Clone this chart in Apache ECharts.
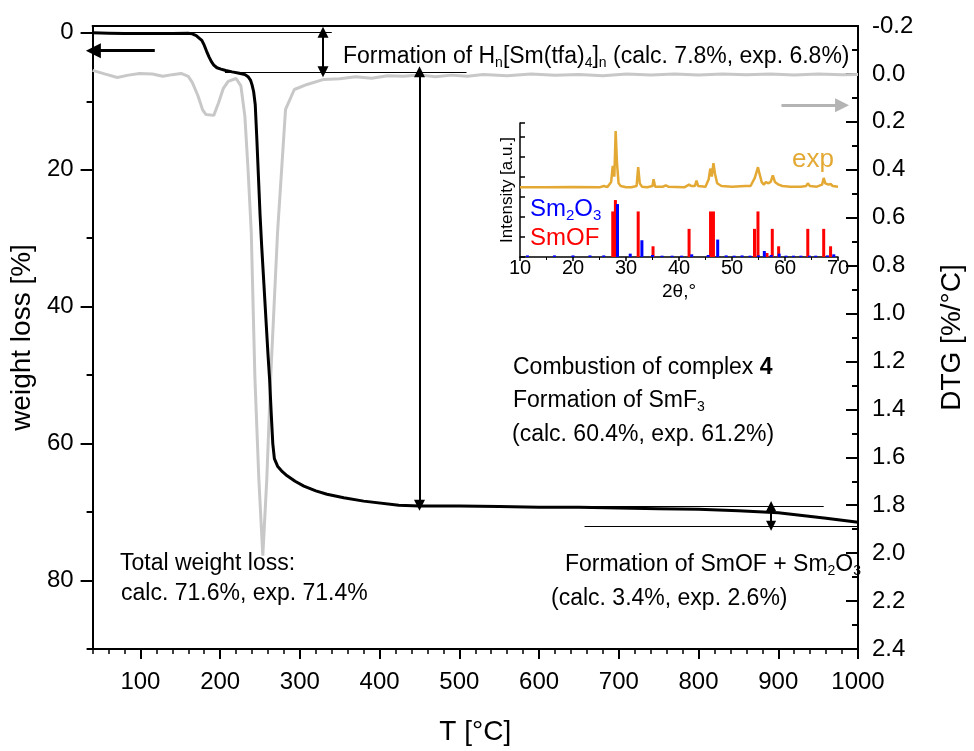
<!DOCTYPE html>
<html><head><meta charset="utf-8">
<script src="https://cdn.jsdelivr.net/npm/echarts@6/dist/echarts.min.js"></script>
<style>html,body{margin:0;padding:0;background:#fff}#c{width:974px;height:751px}</style>
</head><body><div id="c"></div>
<script>
// ---- TGA (weight loss, %) ----
const tgaT = [40,60,80,100,120,140,160,165,170,174,177,180,183,186,189,192,196,201,207,215,224,231,235,238,240,242,244,246,248,250,252,254,256,258,260,262,264,266,268,272,278,284,294,305,320,334,355,380,424,450,500,550,600,650,700,750,800,850,900,930,960,1000];
const tgaW = [0.0,0.05,0.1,0.1,0.1,0.1,0.05,0.15,0.4,0.8,1.1,1.8,2.7,3.5,4.2,4.7,5.1,5.3,5.5,5.7,5.9,6.1,6.4,6.9,7.6,8.6,10.5,15.5,21,26.5,31,35,39,43,47,50.6,55.5,60,62.2,63.3,64.1,64.7,65.5,66.2,66.9,67.4,67.9,68.4,69.0,69.1,69.1,69.2,69.3,69.3,69.4,69.5,69.6,69.8,70.1,70.5,70.9,71.5];
// ---- DTG (%/°C) ----
const dtgT = [40,55,71,85,99,115,128,140,151,160,165,172,178,182,192,198,204,210,220,226,231,235,239,243.6,248.5,253.5,258.5,263.3,272,282,293,309,330,350,370,390,410,430,450,470,490,510,530,560,590,620,650,680,710,740,770,800,830,860,890,920,950,980,1000];
const dtgV = [-0.015,0.0,0.015,0.005,-0.002,0.0,0.01,0.003,-0.002,0.01,0.035,0.09,0.15,0.169,0.173,0.12,0.06,0.031,0.019,0.05,0.177,0.4,0.66,1.27,1.69,2.01,1.69,1.27,0.66,0.148,0.065,0.044,0.023,0.02,0.012,0.018,0.008,0.01,0.004,0.012,0.005,0.01,0.002,0.008,0.0,0.006,0.002,0.008,0.0,0.005,0.0,0.004,0.0,0.003,0.0,0.004,0.0,0.003,0.002];
// ---- inset XRD ----
const xrdX = [10,15,20,25,25.8,26.5,27.2,27.5,27.8,28.05,28.3,28.6,29,30,31,32,32.3,32.6,33,34,35,35.2,35.5,37,37.5,38,41,41.9,42.3,43,43.3,43.6,45,45.6,45.9,46.2,46.5,46.8,47.2,47.5,48,50,52.5,52.8,53.5,54.3,54.6,54.9,55.2,55.6,56,56.4,56.8,57.3,57.7,58.1,58.8,59.5,61,63,64,64.3,64.7,66,67,67.3,67.6,68.2,68.6,69,70];
const xrdY = [52,52,52.3,52,53,52.3,56,68,60,94,70,55,53,52,52,53,67,55,52.5,52,53,58,52.5,52.5,53.5,52.5,52,54,53,53,57,53,52.5,58,66,60,70,62,55,56,53,52.5,53,54,53,59,63,67,62,56,54,56,55,56,61,56,54,53,52.5,52.5,53,55,53,52.5,54,59,55,54,54.5,53,52.5];
const smofX = [27.5,28.0,32.3,35.1,41.9,45.95,46.5,54.25,54.9,56.6,57.6,58.8,64.3,67.3,68.6];
const smofY = [34,42.5,34,8,21,34,34,21,34,3,21,8,21,21,8];
const sm2o3X = [11.4,16.5,20,23.2,25.8,28.4,30.8,33,35,36.8,38.7,40.5,42.4,45.5,47.3,48.9,50.4,51.9,53.4,55,56.1,57.4,58.9,60.2,61.6,63,64.6,65.8,68,69.2];
const sm2o3Y = [1.2,1.2,1.2,1.2,1.2,39.5,2.5,12.5,1.5,1,1,1,2,1.5,13,1.2,1,1.2,1,1.2,4.5,1.5,2.5,1,1,1,1,1,1.2,2];
// ---- ticks ----
const xTicks = [100,200,300,400,500,600,700,800,900,1000];
const wTicks = [0,20,40,60,80];
const wMinor = [10,30,50,70,90];

const FONT = 'Liberation Sans, Arial, sans-serif';
const zip = (a,b)=>a.map((v,i)=>[v,b[i]]);

const thin = {color:'#000', width:1, type:'solid'};
const arr = {color:'#000', width:2, type:'solid'};
const sub = (c)=>({m:{fontSize:23, lineHeight:28, fontFamily:FONT, fill:c}, s:{fontSize:14, lineHeight:14, fontFamily:FONT, verticalAlign:'bottom', fill:c}});

const chart = echarts.init(document.getElementById('c'), null, {renderer:'canvas'});
const option = {
  animation:false,
  backgroundColor:'#fff',
  textStyle:{fontFamily:FONT, color:'#000'},
  grid:[
    {left:92, right:108, top:26, bottom:100, containLabel:false},
    {left:520, width:318, top:123, height:134, containLabel:false}
  ],
  xAxis:[
    {gridIndex:0, type:'value', min:40, max:1000, position:'bottom',
     axisLine:{show:true, onZero:false, lineStyle:{color:'#000', width:2}},
     axisTick:{show:true, length:10, customValues:xTicks, lineStyle:{color:'#000', width:2}},
     axisLabel:{customValues:xTicks, fontSize:24, margin:21, color:'#000', fontFamily:FONT, formatter:v=>String(v)},
     splitLine:{show:false},
     name:'T [°C]', nameLocation:'middle', nameGap:69, nameTextStyle:{fontSize:28, color:'#000', fontFamily:FONT}},
    {gridIndex:0, type:'value', min:40, max:1000, interval:20, position:'bottom',
     axisLine:{show:false, onZero:false}, axisTick:{show:true, length:5, lineStyle:{color:'#000', width:1.5}},
     axisLabel:{show:false}, splitLine:{show:false}},
    {gridIndex:0, type:'value', min:40, max:1000, position:'top',
     axisLine:{show:true, onZero:false, lineStyle:{color:'#000', width:2}}, axisTick:{show:false},
     axisLabel:{show:false}, splitLine:{show:false}},
    {gridIndex:1, type:'value', min:10, max:70, interval:10, position:'bottom',
     axisLine:{show:true, onZero:false, lineStyle:{color:'#000', width:1.5}},
     axisTick:{show:true, length:4, lineStyle:{color:'#000', width:1.5}},
     minorTick:{show:true, splitNumber:2, length:3, lineStyle:{color:'#000', width:1}},
     axisLabel:{fontSize:20, margin:1, color:'#000', fontFamily:FONT},
     splitLine:{show:false},
     name:'2θ,°', nameLocation:'middle', nameGap:25, nameTextStyle:{fontSize:19, color:'#000', fontFamily:FONT}}
  ],
  yAxis:[
    {gridIndex:0, type:'value', min:-1, max:90, inverse:true, position:'left',
     axisLine:{show:true, onZero:false, lineStyle:{color:'#000', width:2}},
     axisTick:{show:true, length:12, customValues:wTicks, lineStyle:{color:'#000', width:2}},
     axisLabel:{customValues:wTicks, fontSize:24, margin:19, color:'#000', fontFamily:FONT},
     splitLine:{show:false},
     name:'weight loss [%]', nameLocation:'middle', nameGap:46, nameRotate:90,
     nameTextStyle:{fontSize:28, color:'#000', fontFamily:FONT}},
    {gridIndex:0, type:'value', min:-1, max:90, inverse:true, position:'left',
     axisLine:{show:false, onZero:false},
     axisTick:{show:true, length:6, customValues:wMinor, lineStyle:{color:'#000', width:2}},
     axisLabel:{show:false}, splitLine:{show:false}},
    {gridIndex:0, type:'value', min:-0.2, max:2.4, interval:0.2, inverse:true, position:'right',
     axisLine:{show:true, onZero:false, lineStyle:{color:'#000', width:2}},
     axisTick:{show:true, inside:true, length:12, lineStyle:{color:'#000', width:2}},
     minorTick:{show:true, splitNumber:2, length:6, lineStyle:{color:'#000', width:2}},
     axisLabel:{fontSize:24, margin:14, color:'#000', fontFamily:FONT, formatter:v=>(Math.round(v*10)/10).toFixed(1)},
     splitLine:{show:false},
     name:'DTG [%/°C]', nameLocation:'middle', nameGap:80, nameRotate:90,
     nameTextStyle:{fontSize:28, color:'#000', fontFamily:FONT}},
    {gridIndex:1, type:'value', min:0, max:100, interval:15, position:'left',
     axisLine:{show:true, onZero:false, lineStyle:{color:'#000', width:1.5}},
     axisTick:{show:true, inside:true, length:5, lineStyle:{color:'#000', width:1.5}},
     axisLabel:{show:false}, splitLine:{show:false},
     name:'Intensity [a.u.]', nameLocation:'middle', nameGap:4, nameRotate:90,
     nameTextStyle:{fontSize:17, color:'#000', fontFamily:FONT}}
  ],
  series:[
    {type:'line', name:'DTG', xAxisIndex:0, yAxisIndex:2, data:zip(dtgT,dtgV), showSymbol:false,
     lineStyle:{color:'#c8c8c8', width:3}, z:2, silent:true,
     markLine:{silent:true, animation:false, label:{show:false}, symbol:['none','triangle'], symbolSize:14,
       lineStyle:{color:'#b4b4b4', width:3, type:'solid'}, emphasis:{disabled:true},
       data:[[{coord:[904,0.131], symbol:'none'},{coord:[980,0.131], symbol:'triangle', symbolSize:14}]]}},
    {type:'line', name:'TGA', xAxisIndex:0, yAxisIndex:0, data:zip(tgaT,tgaW), showSymbol:false,
     lineStyle:{color:'#000', width:3}, z:3, silent:true,
     markLine:{silent:true, animation:false, label:{show:false}, symbol:['none','none'], symbolSize:11,
       emphasis:{disabled:true}, lineStyle:thin,
       data:[
         [{coord:[118,2.6], symbol:'none', lineStyle:{color:'#000', width:3, type:'solid'}},{coord:[41,2.6], symbol:'triangle', symbolSize:15}],
         [{coord:[40,-0.1], symbol:'none', lineStyle:thin},{coord:[340,-0.1], symbol:'none'}],
         [{coord:[206,5.7], symbol:'none', lineStyle:thin},{coord:[509,5.7], symbol:'none'}],
         [{coord:[329,-0.1], symbol:'triangle', symbolSize:11, lineStyle:arr},{coord:[329,5.7], symbol:'triangle', symbolSize:11}],
         [{coord:[450,5.7], symbol:'triangle', symbolSize:11, lineStyle:arr},{coord:[450,69.0], symbol:'triangle', symbolSize:11}],
         [{coord:[600,69.1], symbol:'none', lineStyle:thin},{coord:[957,69.1], symbol:'none'}],
         [{coord:[657,72.0], symbol:'none', lineStyle:thin},{coord:[1000,72.0], symbol:'none'}],
         [{coord:[891,69.1], symbol:'triangle', symbolSize:10, lineStyle:arr},{coord:[891,72.0], symbol:'triangle', symbolSize:10}]
       ]}},
    {type:'line', name:'exp', xAxisIndex:3, yAxisIndex:3, data:zip(xrdX,xrdY), showSymbol:false,
     lineStyle:{color:'#e3a934', width:2.5}, silent:true, z:4},
    {type:'bar', name:'SmOF', xAxisIndex:3, yAxisIndex:3, data:zip(smofX,smofY), barWidth:3, barGap:'-100%',
     itemStyle:{color:'#ff0000'}, silent:true, z:4},
    {type:'bar', name:'Sm2O3', xAxisIndex:3, yAxisIndex:3, data:zip(sm2o3X,sm2o3Y), barWidth:3, barGap:'-100%',
     itemStyle:{color:'#0000ff'}, silent:true, z:5}
  ],
  graphic:[
    {type:'text', left:343, top:45, z:100, style:{
      text:'{m|Formation of H}{s|n}{m|[Sm(tfa)}{s|4}{m|]}{s|n}{m| (calc. 7.8%, exp. 6.8%)}', rich:sub('#000')}},
    {type:'text', left:513, top:356, z:100, style:{
      text:'{m|Combustion of complex }{b|4}',
      rich:{m:{fontSize:23, fontFamily:FONT, fill:'#000'}, b:{fontSize:23, fontWeight:'bold', fontFamily:FONT, fill:'#000'}}}},
    {type:'text', left:513, top:389, z:100, style:{text:'{m|Formation of SmF}{s|3}', rich:sub('#000')}},
    {type:'text', left:512, top:423, z:100, style:{text:'(calc. 60.4%, exp. 61.2%)', fontSize:23, fontFamily:FONT, fill:'#000'}},
    {type:'text', left:120, top:552, z:100, style:{text:'Total weight loss:', fontSize:23, fontFamily:FONT, fill:'#000'}},
    {type:'text', left:121, top:582, z:100, style:{text:'calc. 71.6%, exp. 71.4%', fontSize:23, fontFamily:FONT, fill:'#000'}},
    {type:'text', right:974-861, top:553, z:100, style:{text:'{m|Formation of SmOF + Sm}{s|2}{m|O}{s|3}', rich:sub('#000')}},
    {type:'text', left:551, top:587, z:100, style:{text:'(calc. 3.4%, exp. 2.6%)', fontSize:23, fontFamily:FONT, fill:'#000'}},
    {type:'text', left:792, top:147, z:100, style:{text:'exp', fontSize:26, fontFamily:FONT, fill:'#e3a934'}},
    {type:'text', left:530, top:197, z:100, style:{
      text:'{m|Sm}{s|2}{m|O}{s|3}',
      rich:{m:{fontSize:24, lineHeight:28, fontFamily:FONT, fill:'#0000ff'}, s:{fontSize:15, lineHeight:15, fontFamily:FONT, verticalAlign:'bottom', fill:'#0000ff'}}}},
    {type:'text', left:530, top:226, z:100, style:{text:'SmOF', fontSize:24, fontFamily:FONT, fill:'#ff0000'}}
  ]
};
chart.setOption(option);
</script>
</body></html>
